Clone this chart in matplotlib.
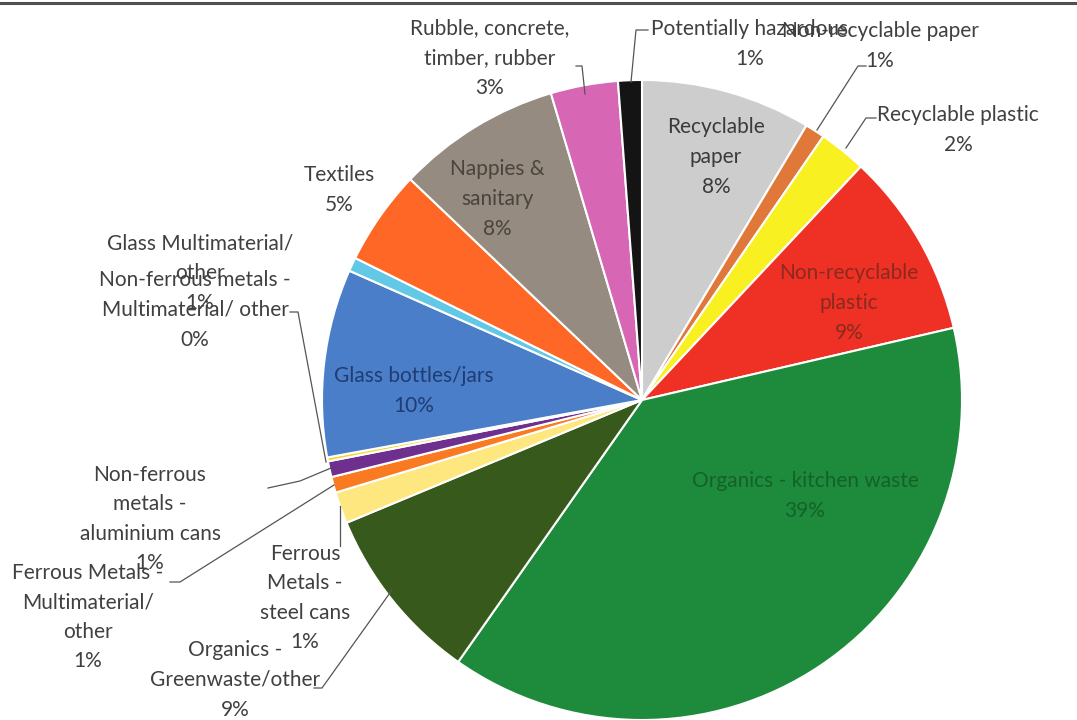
import matplotlib
matplotlib.use("Agg")
import matplotlib.pyplot as plt

W, H = 1077, 720

# waste composition, clockwise from 12 o'clock (percent)
categories = [
    "Recyclable paper", "Non-recyclable paper", "Recyclable plastic",
    "Non-recyclable plastic", "Organics - kitchen waste", "Organics - Greenwaste/other",
    "Ferrous Metals - steel cans", "Ferrous Metals - Multimaterial/ other",
    "Non-ferrous metals - aluminium cans", "Non-ferrous metals - Multimaterial/ other",
    "Glass bottles/jars", "Glass Multimaterial/ other", "Textiles",
    "Nappies & sanitary", "Rubble, concrete, timber, rubber", "Potentially hazardous",
]
values = [8.6, 1.0, 2.4, 9.4, 38.4, 9.0, 1.6, 0.8, 0.8, 0.2, 9.5, 0.7, 4.8, 8.3, 3.4, 1.2]
pct_labels = ["8%", "1%", "2%", "9%", "39%", "9%", "1%", "1%", "1%", "0%",
              "10%", "1%", "5%", "8%", "3%", "1%"]
colors = ["#cdcdcd", "#e0783a", "#f8f020", "#ee3124", "#1d8b3b", "#375a1c",
          "#fde77e", "#fa7a22", "#6f2f8f", "#f5d52a", "#4a7ec8", "#62c8e6",
          "#ff6726", "#958b80", "#d766b4", "#141414"]

plt.rcParams["font.family"] = ["Lato", "DejaVu Sans"]
TXT = "#404040"
FS = 15
LS = 1.6

fig = plt.figure(figsize=(W / 100, H / 100), dpi=100)
ax = fig.add_axes([0, 0, 1, 1])

ax.pie(values, colors=colors, startangle=90, counterclock=False,
       center=(642, H - 400), radius=320,
       wedgeprops=dict(edgecolor="white", linewidth=1.5))
ax.set_xlim(0, W)
ax.set_ylim(0, H)
ax.set_aspect("equal")
ax.axis("off")


def y(py):
    return H - py


# labels inside the slices: (index, text, x, y, colour)
inside = [
    (0, "Recyclable\npaper", 716, 157, "#3a3a3a"),
    (3, "Non-recyclable\nplastic", 849, 303, "#8a2a1e"),
    (4, "Organics - kitchen waste", 805, 496, "#14622a"),
    (10, "Glass bottles/jars", 414, 391, "#1f3d73"),
    (13, "Nappies &\nsanitary", 497, 199, "#4a443c"),
]
for i, name, px, py, c in inside:
    ax.text(px, y(py), name + "\n" + pct_labels[i], ha="center", va="center",
            fontsize=FS, color=c, linespacing=LS)

# labels outside with leader lines: (index, text, x, y, leader polyline)
outside = [
    (14, "Rubble, concrete,\ntimber, rubber", 490, 58,
     [(576, 66), (582, 66), (585, 94)]),
    (15, "Potentially hazardous", 750, 44,
     [(648, 30), (636, 30), (631, 82)]),
    (1, "Non-recyclable paper", 880, 46,
     [(866, 66), (858, 66), (817, 130)]),
    (2, "Recyclable plastic", 958, 130,
     [(876, 118), (866, 118), (846, 148)]),
    (12, "Textiles", 339, 190, None),
    (11, "Glass Multimaterial/\nother", 200, 273, None),
    (9, "Non-ferrous metals -\nMultimaterial/ other", 195, 310,
     [(290, 312), (298, 312), (326, 462)]),
    (8, "Non-ferrous\nmetals -\naluminium cans", 150, 519,
     [(268, 488), (300, 481), (331, 468)]),
    (7, "Ferrous Metals -\nMultimaterial/\nother", 88, 617,
     [(170, 582), (180, 582), (334, 485)]),
    (6, "Ferrous\nMetals -\nsteel cans", 305, 598,
     [(340, 546), (340, 506)]),
    (5, "Organics -\nGreenwaste/other", 235, 680,
     [(314, 688), (322, 688), (392, 590)]),
]
for i, name, px, py, leader in outside:
    ax.text(px, y(py), name + "\n" + pct_labels[i], ha="center", va="center",
            fontsize=FS, color=TXT, linespacing=LS)
    if leader:
        xs = [p[0] for p in leader]
        ys = [y(p[1]) for p in leader]
        ax.plot(xs, ys, color="#555555", linewidth=0.9)

# frame line along the top
ax.plot([0, W], [y(3), y(3)], color="#505050", linewidth=2.2, clip_on=False)

plt.savefig("out.png", dpi=100)
